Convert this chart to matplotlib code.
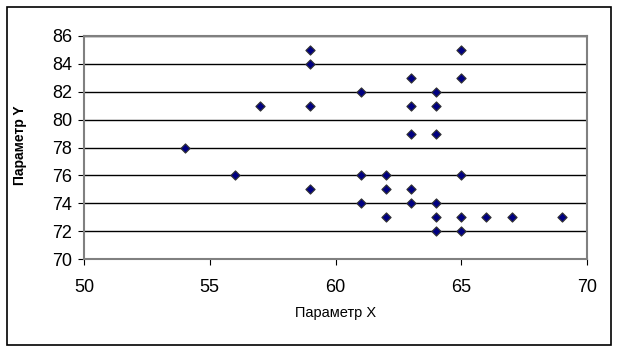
import matplotlib.pyplot as plt
from matplotlib.patches import Rectangle

plt.rcParams['font.family'] = ['Liberation Sans', 'DejaVu Sans']

param_x = [59, 59, 65, 65, 63, 61, 64, 57, 59, 63, 64, 54, 63, 64, 56, 61,
           62, 65, 59, 62, 63, 61, 63, 64, 62, 64, 65, 66, 67, 69, 64, 65]
param_y = [85, 84, 85, 83, 83, 82, 82, 81, 81, 81, 81, 78, 79, 79, 76, 76,
           76, 76, 75, 75, 75, 74, 74, 74, 73, 73, 73, 73, 73, 73, 72, 72]

x_ticks = [50, 55, 60, 65, 70]
y_ticks = list(range(70, 87, 2))

fig = plt.figure(figsize=(6.19, 3.52), dpi=100)
W, H = 619, 352
ax = fig.add_axes([84 / W, 1 - 259 / H, (587 - 84) / W, (259 - 36) / H])

ax.set_xlim(50, 70)
ax.set_ylim(70, 86)
ax.set_xticks(x_ticks)
ax.set_yticks(y_ticks)
ax.yaxis.grid(True, color='black', linewidth=1)
ax.set_axisbelow(True)
for s in ax.spines.values():
    s.set_color('#808080')
    s.set_linewidth(1.5)
ax.tick_params(axis='both', direction='out', length=4.5, color='black',
               labelsize=13)
ax.tick_params(axis='x', pad=10)
ax.tick_params(axis='y', pad=4)

ax.scatter(param_x, param_y, marker='D', s=22, color='#000080',
           edgecolors='#333333', linewidths=0.8, zorder=3)

ax.set_xlabel('Параметр X', fontsize=10.5, labelpad=7)
fig.text(20 / W, 1 - 145 / H, 'Параметр Y', rotation=90, fontsize=10,
         fontweight='bold', ha='center', va='center')

fig.patches.append(Rectangle((7 / W, 1 - 345 / H), (611 - 7) / W, (345 - 7) / H,
                             transform=fig.transFigure, fill=False,
                             edgecolor='black', linewidth=1.2))

fig.savefig('out.png', dpi=100)
